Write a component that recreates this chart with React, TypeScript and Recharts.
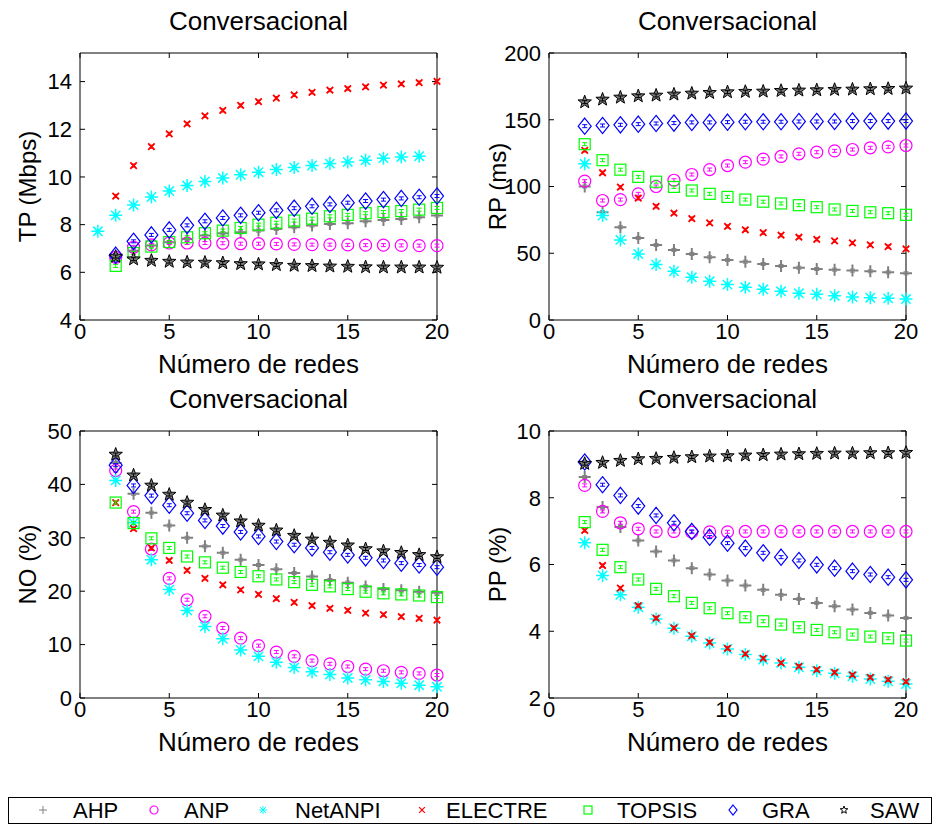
import { ScatterChart, Scatter, XAxis, YAxis } from "recharts";

// número de redes (eje x)
const REDES = [2, 3, 4, 5, 6, 7, 8, 9, 10, 11, 12, 13, 14, 15, 16, 17, 18, 19, 20];
const REDES_TP_NETANPI = [1, 2, 3, 4, 5, 6, 7, 8, 9, 10, 11, 12, 13, 14, 15, 16, 17, 18, 19];
const X_TICKS = [0, 5, 10, 15, 20];

// TP (Mbps)
const TP_AHP = [6.6, 6.91, 7.12, 7.26, 7.4, 7.54, 7.64, 7.68, 7.75, 7.82, 7.89, 7.96, 8.03, 8.06, 8.14, 8.2, 8.24, 8.31, 8.38];
const TP_ANP = [6.63, 7.05, 7.15, 7.23, 7.23, 7.23, 7.22, 7.2, 7.2, 7.19, 7.17, 7.16, 7.16, 7.15, 7.14, 7.14, 7.13, 7.12, 7.12];
const TP_NETANPI = [7.72, 8.39, 8.82, 9.16, 9.41, 9.64, 9.81, 9.96, 10.09, 10.2, 10.31, 10.4, 10.48, 10.56, 10.63, 10.7, 10.79, 10.84, 10.87];
const TP_ELECTRE = [9.2, 10.48, 11.27, 11.81, 12.23, 12.56, 12.79, 13.0, 13.16, 13.31, 13.44, 13.55, 13.64, 13.71, 13.78, 13.85, 13.9, 13.96, 14.01];
const TP_TOPSIS = [6.27, 6.81, 7.08, 7.27, 7.47, 7.64, 7.75, 7.86, 8.0, 8.08, 8.17, 8.25, 8.35, 8.41, 8.48, 8.53, 8.57, 8.63, 8.7];
const TP_GRA = [6.72, 7.3, 7.57, 7.78, 7.97, 8.14, 8.28, 8.39, 8.5, 8.6, 8.69, 8.77, 8.85, 8.92, 8.99, 9.05, 9.1, 9.15, 9.2];
const TP_SAW = [6.66, 6.55, 6.49, 6.45, 6.42, 6.41, 6.39, 6.35, 6.34, 6.31, 6.28, 6.27, 6.25, 6.24, 6.22, 6.21, 6.21, 6.21, 6.2];

// RP (ms)
const RP_AHP = [100, 80.7, 69.5, 61.5, 56.2, 52.5, 49.5, 47, 45, 43.7, 42, 40.5, 39.2, 38.2, 37.7, 37, 36.5, 35.7, 35];
const RP_ANP = [104, 89.5, 90.2, 94.5, 100, 104.7, 109, 112.7, 115.7, 118.2, 120.5, 122.5, 124.5, 125.7, 126.7, 127.7, 129, 129.7, 130.7];
const RP_NETANPI = [117, 78.2, 60, 49.5, 41.5, 36.5, 32, 29, 26.5, 24.5, 23, 21.5, 20, 19.2, 18.2, 17.2, 16.7, 16.2, 15.7];
const RP_ELECTRE = [127, 110.3, 99.5, 91.3, 85.1, 80, 76, 72.7, 70.1, 67.6, 65.4, 63.5, 62, 60.4, 59.2, 57.7, 56.3, 55, 53.2];
const RP_TOPSIS = [131.7, 119.7, 112.6, 107.2, 103.6, 99.7, 97, 94.5, 92.2, 90.2, 88.6, 87.3, 86, 84.5, 82.8, 81.7, 80.7, 80, 78.8];
const RP_GRA = [145.2, 145.7, 146.2, 146.7, 147.2, 147.5, 148, 148, 148.2, 148.5, 148.5, 148.5, 148.7, 148.7, 148.7, 149, 149, 149, 149];
const RP_SAW = [163.2, 165.2, 166.7, 167.7, 168.2, 169, 169.7, 170.2, 170.7, 171, 171.2, 171.7, 172, 172.2, 172.5, 172.7, 173, 173.2, 173.5];

// NO (%)
const NO_AHP = [44, 38.25, 34.7, 32.3, 30, 28.4, 27.2, 25.9, 24.9, 24.1, 23.4, 22.75, 22.1, 21.6, 20.9, 20.4, 20.2, 19.9, 19.7];
const NO_ANP = [42.6, 34.9, 27.9, 22.4, 18.4, 15.3, 13.1, 11.2, 9.8, 8.6, 7.8, 7.0, 6.4, 5.9, 5.4, 5.1, 4.8, 4.6, 4.3];
const NO_NETANPI = [40.75, 32.8, 25.9, 20.3, 16.4, 13.4, 11.1, 9.0, 7.8, 6.7, 5.7, 4.9, 4.4, 3.75, 3.4, 3.1, 2.75, 2.4, 2.1];
const NO_ELECTRE = [36.6, 31.7, 28.1, 25.75, 23.9, 22.4, 21.2, 20.25, 19.4, 18.6, 17.9, 17.3, 16.8, 16.4, 15.9, 15.6, 15.25, 14.9, 14.6];
const NO_TOPSIS = [36.6, 32.75, 29.9, 28.1, 26.5, 25.4, 24.4, 23.6, 22.8, 22.2, 21.7, 21.2, 20.9, 20.4, 19.9, 19.6, 19.4, 19.2, 18.9];
const NO_GRA = [43.6, 39.8, 37.9, 36.1, 34.6, 33.25, 32.2, 31.1, 30.25, 29.3, 28.7, 28.1, 27.3, 26.8, 26.25, 25.75, 25.25, 24.9, 24.5];
const NO_SAW = [45.6, 41.7, 39.8, 38.1, 36.6, 35.25, 34.2, 33.1, 32.3, 31.4, 30.4, 29.7, 29.1, 28.6, 27.9, 27.5, 27.2, 26.8, 26.4];

// PP (%)
const PP_AHP = [8.62, 7.72, 7.12, 6.72, 6.39, 6.12, 5.89, 5.7, 5.52, 5.37, 5.24, 5.09, 4.97, 4.85, 4.75, 4.65, 4.55, 4.47, 4.4];
const PP_ANP = [8.37, 7.59, 7.25, 7.07, 6.99, 6.99, 6.97, 6.98, 6.98, 6.99, 6.99, 6.99, 6.99, 6.99, 6.99, 6.99, 6.99, 6.99, 6.99];
const PP_NETANPI = [6.65, 5.67, 5.09, 4.72, 4.37, 4.09, 3.85, 3.65, 3.47, 3.3, 3.15, 3.05, 2.92, 2.82, 2.74, 2.65, 2.57, 2.5, 2.42];
const PP_ELECTRE = [7.02, 5.97, 5.29, 4.77, 4.39, 4.1, 3.87, 3.67, 3.49, 3.32, 3.19, 3.05, 2.95, 2.85, 2.77, 2.69, 2.62, 2.55, 2.49];
const PP_TOPSIS = [7.27, 6.44, 5.92, 5.55, 5.27, 5.05, 4.85, 4.69, 4.54, 4.42, 4.3, 4.2, 4.12, 4.04, 3.97, 3.9, 3.84, 3.79, 3.72];
const PP_GRA = [9.07, 8.39, 8.07, 7.75, 7.47, 7.25, 6.99, 6.82, 6.64, 6.49, 6.35, 6.22, 6.12, 5.99, 5.89, 5.8, 5.7, 5.62, 5.54];
const PP_SAW = [9.02, 9.05, 9.11, 9.16, 9.17, 9.2, 9.22, 9.24, 9.25, 9.27, 9.28, 9.3, 9.31, 9.32, 9.33, 9.33, 9.34, 9.34, 9.35];

const FONT = '"Liberation Sans", Arial, Helvetica, sans-serif';

const METHODS = [
  { name: "AHP", kind: "plus", color: "#808080" },
  { name: "ANP", kind: "circle", color: "#ff00ff" },
  { name: "NetANPI", kind: "asterisk", color: "#00ffff" },
  { name: "ELECTRE", kind: "cross", color: "#ff0000" },
  { name: "TOPSIS", kind: "square", color: "#00ff00" },
  { name: "GRA", kind: "diamond", color: "#0000ff" },
  { name: "SAW", kind: "star", color: "#000000" },
];

const pts = (xs: number[], ys: number[]) => xs.map((x, i) => ({ x, y: ys[i] }));

function starPath(cx: number, cy: number, r: number) {
  let d = "";
  for (let i = 0; i < 10; i++) {
    const rr = i % 2 === 0 ? r : r * 0.42;
    const a = -Math.PI / 2 + (i * Math.PI) / 5;
    d += (i === 0 ? "M" : "L") + (cx + rr * Math.cos(a)).toFixed(2) + "," + (cy + rr * Math.sin(a)).toFixed(2);
  }
  return d + "Z";
}

function Glyph({ kind, color, cx, cy, r, bar, legend }: any) {
  let mark;
  const k = r * 0.72;
  switch (kind) {
    case "plus":
      mark = <path d={`M${cx - r},${cy}H${cx + r}M${cx},${cy - r}V${cy + r}`} stroke={color} strokeWidth={legend ? 1 : 2} fill="none" />;
      break;
    case "circle":
      mark = <circle cx={cx} cy={cy} r={r} stroke={color} strokeWidth={1.2} fill="none" />;
      break;
    case "asterisk":
      mark = (
        <path
          d={`M${cx - r},${cy}H${cx + r}M${cx},${cy - r}V${cy + r}M${cx - k},${cy - k}L${cx + k},${cy + k}M${cx - k},${cy + k}L${cx + k},${cy - k}`}
          stroke={color}
          strokeWidth={legend ? 1 : 1.5}
          fill="none"
        />
      );
      break;
    case "cross":
      mark = <path d={`M${cx - k},${cy - k}L${cx + k},${cy + k}M${cx - k},${cy + k}L${cx + k},${cy - k}`} stroke={color} strokeWidth={legend ? 1.2 : 1.8} fill="none" />;
      break;
    case "square":
      mark = <rect x={cx - r} y={cy - r} width={2 * r} height={2 * r} stroke={color} strokeWidth={1.2} fill="none" />;
      break;
    case "diamond":
      mark = <polygon points={`${cx},${cy - r * 1.25} ${cx + r},${cy} ${cx},${cy + r * 1.25} ${cx - r},${cy}`} stroke={color} strokeWidth={1.2} fill="none" />;
      break;
    default:
      mark = <path d={starPath(cx, cy, r)} stroke={color} strokeWidth={1} fill={legend ? "none" : "#7d7d7d"} />;
  }
  return (
    <g>
      {mark}
      {bar && (
        <path
          d={`M${cx - 2.5},${cy - 1.5}H${cx + 2.5}M${cx - 2.5},${cy + 1.5}H${cx + 2.5}M${cx},${cy - 1.5}V${cy + 1.5}`}
          stroke={color}
          strokeWidth={1}
          fill="none"
        />
      )}
    </g>
  );
}

const SIZE: Record<string, number> = { plus: 6, circle: 6, asterisk: 6.5, cross: 4.5, square: 5.5, diamond: 6.5, star: 7 };

const PLOT_W = 357;
const PLOT_H = 267;
const ML = 80;
const MT = 40;

function Panel({ left, top, title, yLabel, labelX, domain, ticks, series }: any) {
  const tickStyle = { fontSize: 22, fill: "#000", fontFamily: FONT };
  return (
    <>
      <div
        style={{
          position: "absolute",
          left,
          width: PLOT_W,
          top: top - 47,
          textAlign: "center",
          fontSize: 26,
          lineHeight: "30px",
          color: "#000",
          fontFamily: FONT,
        }}
      >
        {title}
      </div>
      <div style={{ position: "absolute", left: left - ML, top: top - MT }}>
        <ScatterChart width={ML + PLOT_W + 20} height={MT + PLOT_H + 60} margin={{ top: MT - 1, right: 19, bottom: 0, left: 0 }}>
          <XAxis
            xAxisId="b"
            type="number"
            dataKey="x"
            domain={[0, 20]}
            ticks={X_TICKS}
            height={60}
            stroke="#000"
            tickSize={-5}
            tickMargin={8}
            tick={tickStyle}
            label={{ value: "Número de redes", position: "insideBottom", offset: 7, fontSize: 26, fill: "#000", fontFamily: FONT }}
          />
          <XAxis
            xAxisId="t"
            orientation="top"
            type="number"
            dataKey="x"
            domain={[0, 20]}
            ticks={X_TICKS}
            height={1}
            stroke="#000"
            tickSize={-5}
            tickMargin={0}
            tickFormatter={() => ""}
          />
          <YAxis
            yAxisId="l"
            type="number"
            dataKey="y"
            domain={domain}
            ticks={ticks}
            width={ML}
            stroke="#000"
            tickSize={-5}
            tickMargin={13}
            tick={tickStyle}
            allowDataOverflow
            label={{ value: yLabel, angle: -90, position: "insideLeft", offset: labelX - (left - ML), fontSize: 24, fill: "#000", fontFamily: FONT, style: { textAnchor: "middle" } }}
          />
          <YAxis
            yAxisId="r"
            orientation="right"
            type="number"
            dataKey="y"
            domain={domain}
            ticks={ticks}
            width={1}
            stroke="#000"
            tickSize={-5}
            tickMargin={0}
            tickFormatter={() => ""}
            allowDataOverflow
          />
          {METHODS.map((m, i) => (
            <Scatter
              key={m.name}
              name={m.name}
              xAxisId="b"
              yAxisId="l"
              data={series[i]}
              isAnimationActive={false}
              shape={(p: any) => <Glyph kind={m.kind} color={m.color} cx={p.cx} cy={p.cy} r={SIZE[m.kind]} bar />}
            />
          ))}
          {/* invisible carrier so the top / right frame axes get drawn */}
          <Scatter xAxisId="t" yAxisId="r" data={series[0]} isAnimationActive={false} shape={() => <g />} />
        </ScatterChart>
      </div>
    </>
  );
}

const LEGEND_MARK_X = [42, 153, 262, 421, 587, 732, 843];
const LEGEND_TEXT_X = [73, 184, 295, 446, 617, 762, 870];

function LegendBox() {
  return (
    <div
      style={{
        position: "absolute",
        left: 8,
        top: 797,
        width: 924,
        height: 27,
        boxSizing: "border-box",
        border: "1px solid #000",
        background: "#fff",
        fontFamily: FONT,
      }}
    >
      {METHODS.map((m, i) => (
        <div key={m.name}>
          <svg style={{ position: "absolute", left: LEGEND_MARK_X[i] - 8 - 8, top: 4 }} width={16} height={16}>
            <Glyph kind={m.kind} color={m.color} cx={8} cy={8} r={4} legend />
          </svg>
          <span style={{ position: "absolute", left: LEGEND_TEXT_X[i] - 9, top: 0, fontSize: 22, lineHeight: "25px", color: "#000" }}>
            {m.name}
          </span>
        </div>
      ))}
    </div>
  );
}

export default function App() {
  return (
    <div style={{ position: "absolute", left: 0, top: 0, width: 939, height: 836, background: "#fff", overflow: "hidden", fontFamily: FONT }}>
      <Panel
        left={80}
        top={53}
        title="Conversacional"
        yLabel="TP (Mbps)"
        labelX={27}
        domain={[4, 15.2]}
        ticks={[4, 6, 8, 10, 12, 14]}
        series={[
          pts(REDES, TP_AHP),
          pts(REDES, TP_ANP),
          pts(REDES_TP_NETANPI, TP_NETANPI),
          pts(REDES, TP_ELECTRE),
          pts(REDES, TP_TOPSIS),
          pts(REDES, TP_GRA),
          pts(REDES, TP_SAW),
        ]}
      />
      <Panel
        left={549}
        top={53}
        title="Conversacional"
        yLabel="RP (ms)"
        labelX={497}
        domain={[0, 200]}
        ticks={[0, 50, 100, 150, 200]}
        series={[
          pts(REDES, RP_AHP),
          pts(REDES, RP_ANP),
          pts(REDES, RP_NETANPI),
          pts(REDES, RP_ELECTRE),
          pts(REDES, RP_TOPSIS),
          pts(REDES, RP_GRA),
          pts(REDES, RP_SAW),
        ]}
      />
      <Panel
        left={80}
        top={431}
        title="Conversacional"
        yLabel="NO (%)"
        labelX={27}
        domain={[0, 50]}
        ticks={[0, 10, 20, 30, 40, 50]}
        series={[
          pts(REDES, NO_AHP),
          pts(REDES, NO_ANP),
          pts(REDES, NO_NETANPI),
          pts(REDES, NO_ELECTRE),
          pts(REDES, NO_TOPSIS),
          pts(REDES, NO_GRA),
          pts(REDES, NO_SAW),
        ]}
      />
      <Panel
        left={549}
        top={431}
        title="Conversacional"
        yLabel="PP (%)"
        labelX={497}
        domain={[2, 10]}
        ticks={[2, 4, 6, 8, 10]}
        series={[
          pts(REDES, PP_AHP),
          pts(REDES, PP_ANP),
          pts(REDES, PP_NETANPI),
          pts(REDES, PP_ELECTRE),
          pts(REDES, PP_TOPSIS),
          pts(REDES, PP_GRA),
          pts(REDES, PP_SAW),
        ]}
      />
      <LegendBox />
    </div>
  );
}
